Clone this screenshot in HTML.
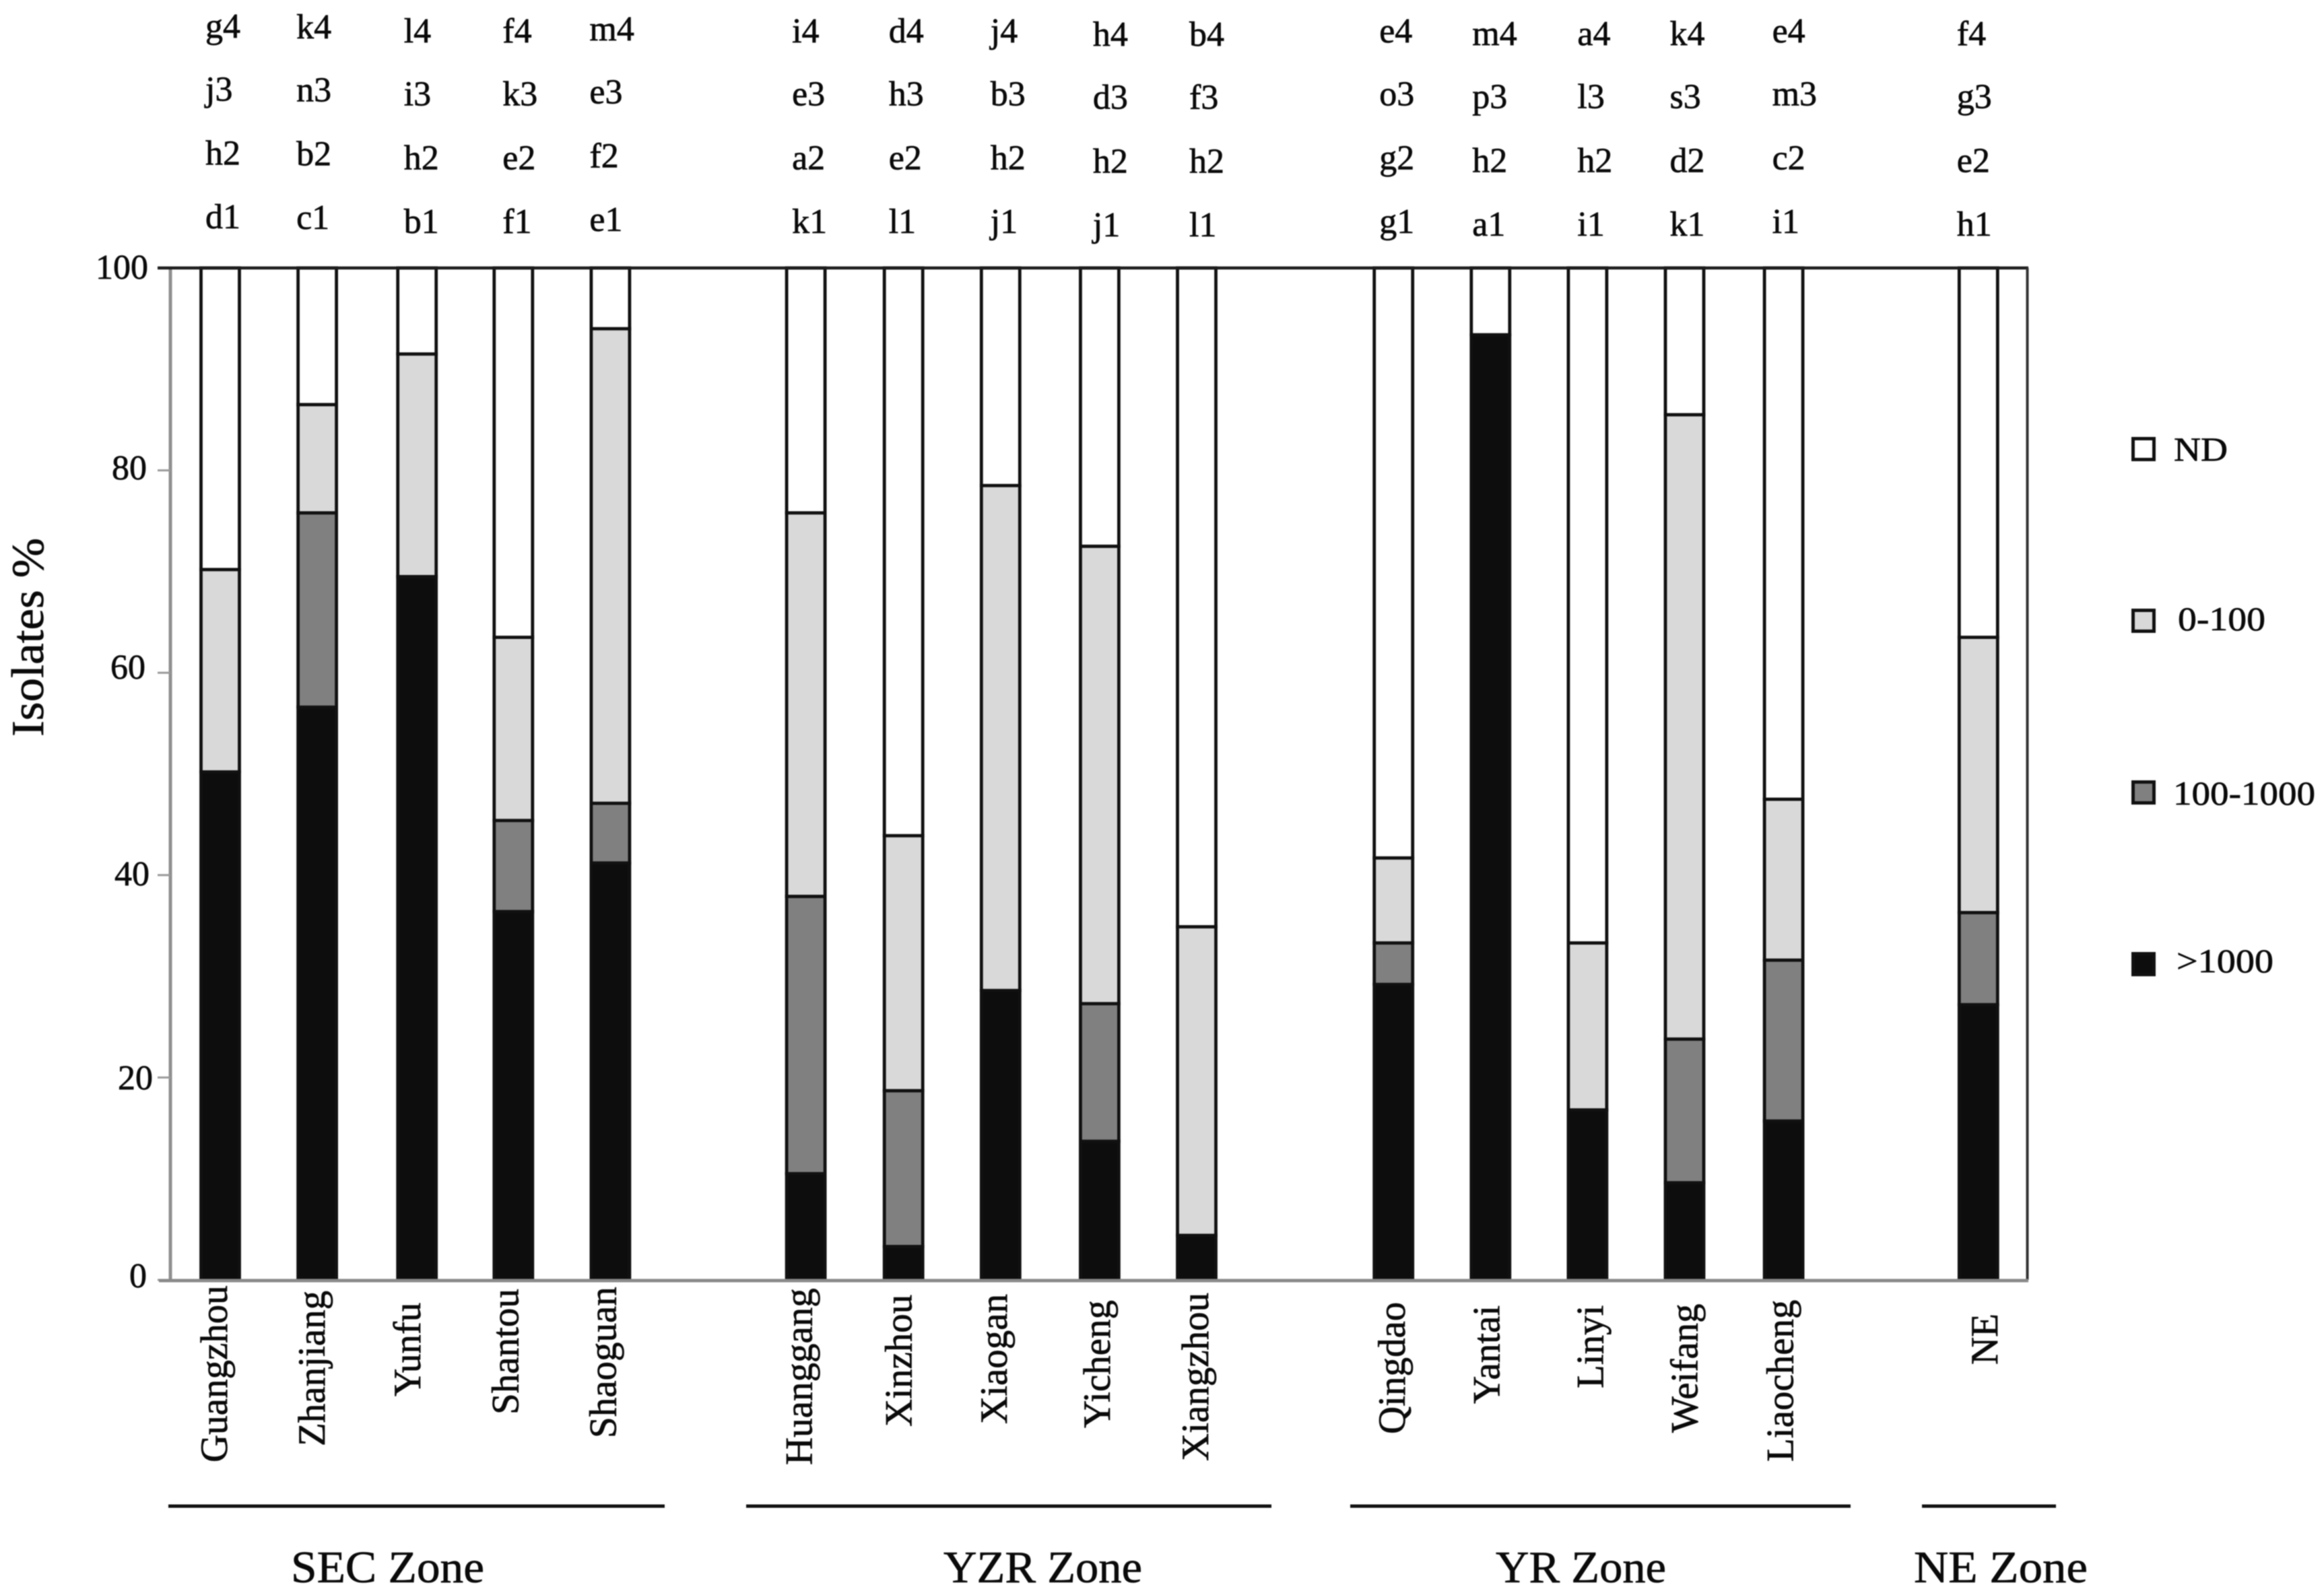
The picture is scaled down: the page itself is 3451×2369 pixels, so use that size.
<!DOCTYPE html>
<html lang="en">
<head>
<meta charset="utf-8">
<title>Isolates by zone</title>
<style>
html,body{margin:0;padding:0;background:#fff;width:3451px;height:2369px;overflow:hidden}
svg{display:block;filter:blur(0.7px)}
text{font-family:"Liberation Serif","DejaVu Serif",serif;fill:#0a0a0a;stroke:#0a0a0a;stroke-width:0.7px}
</style>
</head>
<body>
<svg id="chart" xmlns="http://www.w3.org/2000/svg" width="3451" height="2369" viewBox="0 0 3451 2369"></svg>
<script>
const categories = ["Guangzhou","Zhanjiang","Yunfu","Shantou","Shaoguan","Huanggang","Xinzhou","Xiaogan","Yicheng","Xiangzhou","Qingdao","Yantai","Linyi","Weifang","Liaocheng","NE"];
const categorySlots = [0,1,2,3,4,6,7,8,9,10,12,13,14,15,16,18];
const over1000 = [50.2,56.6,69.5,36.4,41.2,10.5,3.3,28.6,13.7,4.4,29.2,93.4,16.8,9.6,15.7,27.2];
const from100to1000 = [0,19.2,0,9,5.9,27.4,15.4,0,13.6,0,4.1,0,0,14.2,15.9,9.1];
const from0to100 = [20,10.7,22,18.1,46.9,37.9,25.2,49.9,45.2,30.5,8.4,0,16.5,61.7,15.9,27.2];
const notDetected = [29.8,13.5,8.5,36.5,6,24.2,56.1,21.5,27.5,65.1,58.3,6.6,66.7,14.5,52.5,36.5];
const yTicks = [0,20,40,60,80,100];
const groupRow4 = ["g4","k4","l4","f4","m4","i4","d4","j4","h4","b4","e4","m4","a4","k4","e4","f4"];
const groupRow3 = ["j3","n3","i3","k3","e3","e3","h3","b3","d3","f3","o3","p3","l3","s3","m3","g3"];
const groupRow2 = ["h2","b2","h2","e2","f2","a2","e2","h2","h2","h2","g2","h2","h2","d2","c2","e2"];
const groupRow1 = ["d1","c1","b1","f1","e1","k1","l1","j1","j1","l1","g1","a1","i1","k1","i1","h1"];
const zones = ["SEC Zone","YZR Zone","YR Zone","NE Zone"];
const legendLabels = ["ND","0-100","100-1000",">1000"];

const NS = "http://www.w3.org/2000/svg";
const svg = document.getElementById("chart");
const y = v => 1901 - v * 15.03;
const x = s => 295 + 145.1 * s;
const BAR_W = 62;

const barNudge = [1,0,3,1,0,0,0,-1,1,0,2,1,0,-1,1,0];
const labelOffsetX = [42,42,39,39,39,40,43,39,47,48,50,45,54,49,46,59];
const labelStartY = [2172,2148,2074,2101,2136,2176,2119,2115,2121,2170,2130,2085,2062,2128,2171,2027];
const annotationOffsetX = [10,0,14.5,16,0,10.5,9,15,22,20,12,5,16,8,15,-1];
const annotationTopY = [56,57,63,63,60,63,63,63,68,68,63,67,67,67,63,67];
const tickLabelEnd = [218,227,222,216,218,220];
const tickLabelBase = [1912,1618,1315,1008,712,414];
const zoneRuleStart = [250,1108,2005,2854];
const zoneRuleEnd = [987,1888,2748,3053];
const zoneTextStart = [432,1401,2221,2842];
const zoneTextWidth = [287,295,253,258];
const zoneTextBase = [2350,2350,2350,2350];
const legendTextStart = [3228,3234,3227,3232];
const legendTextWidth = [80,130,211,144];
const legendTextBase = [684,936,1195,1444];
const legendCenterY = [667,922,1177,1432];

function make(tag, attrs, content) {
  const el = document.createElementNS(NS, tag);
  for (const k in attrs) el.setAttribute(k, attrs[k]);
  if (content !== undefined) el.textContent = content;
  svg.appendChild(el);
  return el;
}

// Axes
const leftAxis = make("line", {x1:253,y1:y(100),x2:253,y2:y(0),stroke:"#8f8f8f","stroke-width":5});


yTicks.forEach((t, i) => {
  const tick = make("line", {x1:234,y1:y(t),x2:253,y2:y(t),stroke:"#999","stroke-width":3});
  
  
  const lbl = make("text", {x:tickLabelEnd[i],y:tickLabelBase[i],"text-anchor":"end","font-size":52}, String(t));
  
  
});

// Stacked bars
const seriesList = [over1000, from100to1000, from0to100, notDetected];
const seriesFill = ["#0d0d0d","#808080","#d9d9d9","#ffffff"];
const seriesKey = ["over-1000","100-to-1000","0-to-100","nd"];
categories.forEach((cat, i) => {
  let base = 0;
  seriesList.forEach((vals, s) => {
    const v = vals[i];
    if (v > 0) {
      const top = base + v;
      const rect = make("rect", {x:x(categorySlots[i]) + barNudge[i] + 2.5, y:y(top), width:BAR_W - 5, height:y(base) - y(top), fill:seriesFill[s], stroke:"#111", "stroke-width":4.8});
      
      
      base = top;
    }
  });
});

const topLine = make("line", {x1:234,y1:y(100),x2:3012,y2:y(100),stroke:"#1c1c1c","stroke-width":4.5});


const rightLine = make("line", {x1:3010.5,y1:y(100),x2:3010.5,y2:y(0),stroke:"#333","stroke-width":4});


const bottomLine = make("line", {x1:236,y1:y(0) + 1,x2:3012,y2:y(0) + 1,stroke:"#8a8a8a","stroke-width":5});



// Category labels
categories.forEach((cat, i) => {
  const bx = x(categorySlots[i]) + labelOffsetX[i];
  const by = labelStartY[i];
  const lbl = make("text", {x:bx,y:by,"font-size":57,transform:"rotate(-90 " + bx + " " + by + ")"}, cat);
  
  
});

// Top group annotations
const annotationRows = [groupRow4, groupRow3, groupRow2, groupRow1];
const rowGap = [0, 93.5, 188.5, 283];
annotationRows.forEach((row, r) => {
  row.forEach((txt, i) => {
    const t = make("text", {x:x(categorySlots[i]) + annotationOffsetX[i], y:annotationTopY[i] + rowGap[r], "font-size":52}, txt);
    
    
  });
});

// Zones
zones.forEach((z, i) => {
  const rule = make("line", {x1:zoneRuleStart[i],y1:2237,x2:zoneRuleEnd[i],y2:2237,stroke:"#111","stroke-width":5});
  
  
  const lbl = make("text", {x:zoneTextStart[i],y:zoneTextBase[i],"font-size":67,textLength:zoneTextWidth[i],lengthAdjust:"spacingAndGlyphs"}, z);
  
  
});

// Legend
const legendFill = ["#ffffff","#d9d9d9","#808080","#0d0d0d"];
legendLabels.forEach((lab, i) => {
  const box = make("rect", {x:3167.5,y:legendCenterY[i] - 15.5,width:31,height:31,fill:legendFill[i],stroke:"#111","stroke-width":5});
  
  
  const t = make("text", {x:legendTextStart[i],y:legendTextBase[i],"font-size":50,textLength:legendTextWidth[i],lengthAdjust:"spacingAndGlyphs"}, lab);
  
  
});

// Y-axis title
const yTitle = make("text", {x:64,y:1094,"font-size":68,textLength:295,lengthAdjust:"spacingAndGlyphs",transform:"rotate(-90 64 1094)"}, "Isolates %");


</script>
</body>
</html>
